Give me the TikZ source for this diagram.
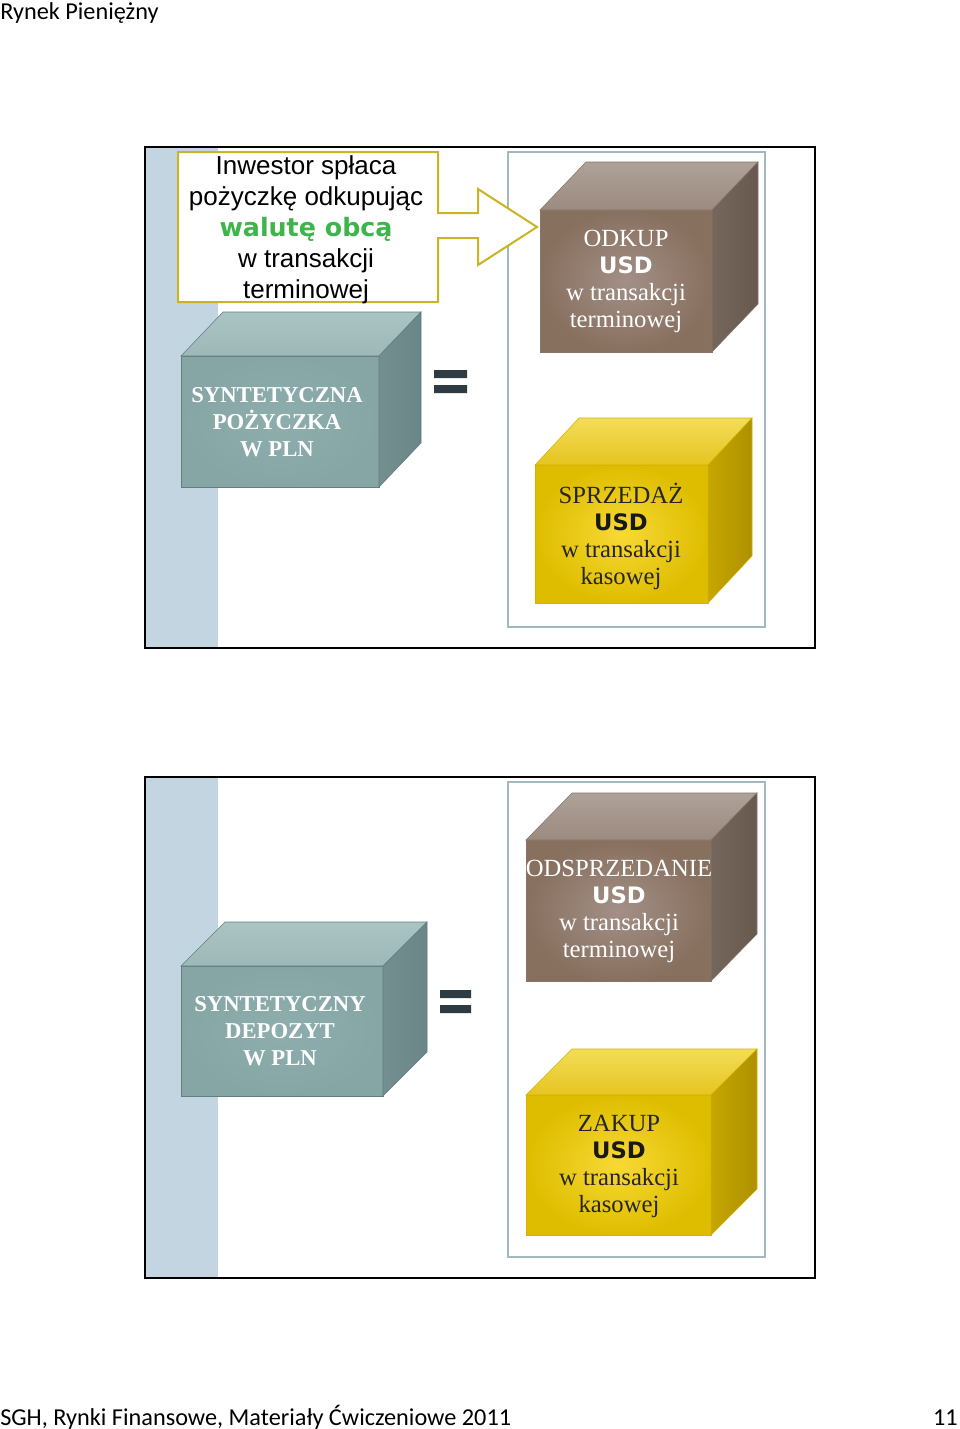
\documentclass[tikz,border=0pt]{standalone}
\usepackage{fontspec}
\setmainfont{Liberation Serif}
\setsansfont{Liberation Sans}
\newfontfamily\calibrifont{Carlito}
\newfontfamily\heavyfont{DejaVu Sans}
\usetikzlibrary{positioning}

\definecolor{stripblue}{HTML}{C2D5E1}
\definecolor{panelline}{HTML}{A3B9C0}
\definecolor{calloutline}{HTML}{C9B523}
\definecolor{greentext}{HTML}{3DB54A}
\definecolor{eqdark}{HTML}{2E3B42}
\definecolor{tealIn}{HTML}{8EAEAE}\definecolor{tealOut}{HTML}{86A6A6}
\definecolor{tealTopA}{HTML}{AAC3C3}\definecolor{tealTopB}{HTML}{9EB8B8}
\definecolor{tealSideA}{HTML}{748F8F}\definecolor{tealSideB}{HTML}{6A8686}
\definecolor{tealLine}{HTML}{5F7F80}
\definecolor{brownIn}{HTML}{A28F86}\definecolor{brownOut}{HTML}{88705F}
\definecolor{brownTopA}{HTML}{ADA299}\definecolor{brownTopB}{HTML}{9C8A7F}
\definecolor{brownSideA}{HTML}{76675C}\definecolor{brownSideB}{HTML}{685950}
\definecolor{brownLine}{HTML}{8A7468}
\definecolor{yellowIn}{HTML}{F8D935}\definecolor{yellowOut}{HTML}{DEBD00}
\definecolor{yellowTopA}{HTML}{F3DD58}\definecolor{yellowTopB}{HTML}{E6C420}
\definecolor{yellowSideA}{HTML}{C6A600}\definecolor{yellowSideB}{HTML}{AE9100}
\definecolor{yellowLine}{HTML}{D4B300}

% front corner (x,y), width, height, depth dx, dy, colour set
\newcommand{\slabcube}[7]{%
  \shade[draw=#7Line, inner color=#7In, outer color=#7Out] (#1,#2) rectangle ++(#3,#4);
  \shade[draw=#7Line, top color=#7TopA, bottom color=#7TopB]
    (#1,#2) -- ++(#5,-#6) -- ++(#3,0) -- ++(-#5,#6) -- cycle;
  \shade[draw=#7Line, left color=#7SideA, right color=#7SideB]
    (#1+#3,#2) -- ++(#5,-#6) -- ++(0,#4) -- ++(-#5,#6) -- cycle;
}
\newcommand{\usdword}[1]{{\heavyfont\bfseries\fontsize{17}{20.25}\selectfont\color{#1}USD}}

\begin{document}
\begin{tikzpicture}[x=0.75pt, y=-0.75pt,
    slide/.style={draw=black, line width=1.5pt},
    panel/.style={draw=panelline, line width=1.5pt},
    eqbar/.style={fill=eqdark},
    cubetext/.style={align=center, inner sep=0pt, font=\fontsize{18.5}{20.25}\selectfont},
    plntext/.style={align=center, inner sep=0pt, text=white,
      font=\fontsize{17}{20.25}\selectfont\bfseries},
    pagetext/.style={inner sep=0pt, font=\calibrifont\fontsize{18.2}{20}\selectfont}]
  \useasboundingbox[fill=white] (0,0) rectangle (960,1429);

  \node[pagetext, anchor=base west] (title) at (0,19) {Rynek Pieniężny};
  \node[pagetext, anchor=base west] (footer) at (0,1425) {SGH, Rynki Finansowe, Materiały Ćwiczeniowe 2011};
  \node[pagetext, anchor=base east] (pageno) at (958,1425) {11};

  % upper slide
  \fill[stripblue] (145,147) rectangle (218,648);
  \draw[panel] (508,152) rectangle (765,627);
  \slabcube{181}{356}{198}{131}{42}{44}{teal}
  \slabcube{540}{210}{172}{142}{46}{48}{brown}
  \slabcube{535}{465}{173}{138}{44}{47}{yellow}
  \fill[eqbar] (434,370) rectangle (467,378) (434,385) rectangle (467,393);
  \draw[calloutline, line width=1.5pt, fill=white]
    (178,152) -- (438,152) -- (438,213) -- (478,213) -- (478,189) -- (537,227)
    -- (478,265) -- (478,238) -- (438,238) -- (438,302) -- (178,302) -- cycle;
  \node[align=center, inner sep=0pt, font=\sffamily\fontsize{19.5}{23.25}\selectfont]
    (repay) at (306,230) {Inwestor spłaca\\pożyczkę odkupując\\
    {\heavyfont\bfseries\fontsize{19}{23.25}\selectfont\color{greentext}walutę obcą}\\w transakcji\\terminowej};
  \node[plntext] (loan) at (277,422) {SYNTETYCZNA\\POŻYCZKA\\W PLN};
  \node[cubetext, text=white] (buyback) at (626,281) {ODKUP\\\usdword{white}\\w transakcji\\terminowej};
  \node[cubetext, text=black!85] (spotsell) at (621,536) {SPRZEDAŻ\\\usdword{black!90}\\w transakcji\\kasowej};
  \draw[slide] (145,147) rectangle (815,648);

  % lower slide
  \fill[stripblue] (145,777) rectangle (218,1278);
  \draw[panel] (508,782) rectangle (765,1257);
  \slabcube{181}{966}{202}{130}{44}{44}{teal}
  \slabcube{526}{840}{185}{141}{46}{47}{brown}
  \slabcube{526}{1095}{185}{140}{46}{46}{yellow}
  \fill[eqbar] (440,990) rectangle (471,998) (440,1005) rectangle (471,1013);
  \node[plntext] (deposit) at (280,1031) {SYNTETYCZNY\\DEPOZYT\\W PLN};
  \node[cubetext, text=white] (resell) at (619,911) {ODSPRZEDANIE\\\usdword{white}\\w transakcji\\terminowej};
  \node[cubetext, text=black!85] (spotbuy) at (619,1166) {ZAKUP\\\usdword{black!90}\\w transakcji\\kasowej};
  \draw[slide] (145,777) rectangle (815,1278);
\end{tikzpicture}
\end{document}
